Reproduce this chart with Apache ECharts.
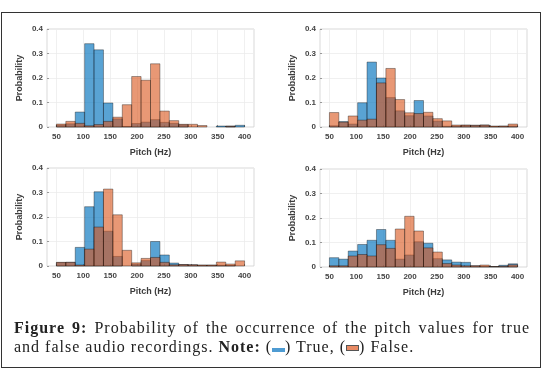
<!DOCTYPE html>
<html>
<head>
<meta charset="utf-8">
<script src="https://cdn.jsdelivr.net/npm/echarts@6/dist/echarts.min.js"></script>
<style>
body{margin:0;background:#fff}
#main{position:absolute;left:0;top:0;width:550px;height:381px}
#frame{position:absolute;left:1px;top:12px;width:540px;height:356px;border:1px solid #333;box-sizing:border-box;pointer-events:none}
#cap{position:absolute;left:14px;top:318px;width:516px;font-family:"Liberation Serif",serif;font-size:16px;letter-spacing:1px;color:#222;line-height:19px}
#cap .l1{text-align:justify;text-align-last:justify;white-space:nowrap}
#cap b{font-weight:bold}
.ic{display:inline-block;width:13px;vertical-align:middle}
</style>
</head>
<body>
<div id="main"></div>
<div id="frame"></div>
<div id="cap">
  <div class="l1"><b>Figure 9:</b> Probability of the occurrence of the pitch values for true</div>
  <div>and false audio recordings. <b>Note:</b> (<span class="ic" style="height:4px;background:#4e9bd2;margin-top:4px"></span>) True, (<span class="ic" style="height:6px;background:#e88a64;border:1px solid #555;box-sizing:border-box"></span>) False.</div>
</div>
<script>
// bin left edges (Hz), each bin is 17.5 Hz wide
var binStarts = [50, 67.5, 85, 102.5, 120, 137.5, 155, 172.5, 190, 207.5, 225, 242.5, 260, 277.5, 295, 312.5, 330, 347.5, 365, 382.5];
var binWidth = 17.5;
var xTicks = [50, 100, 150, 200, 250, 300, 350, 400];

// probabilities per bin, true (blue) and false (orange), four panels
var true1  = [0.008, 0.013, 0.061, 0.34, 0.315, 0.098, 0.033, 0.002, 0.014, 0.02, 0.03, 0.019, 0.015, 0.009, 0, 0, 0, 0.004, 0.004, 0.007];
var false1 = [0.012, 0.023, 0.015, 0.005, 0.01, 0.023, 0.04, 0.091, 0.206, 0.191, 0.258, 0.065, 0.026, 0.011, 0.011, 0.006, 0, 0, 0.003, 0];
var true2  = [0.005, 0.022, 0.012, 0.099, 0.265, 0.2, 0.12, 0.066, 0.046, 0.108, 0.045, 0.024, 0.003, 0.004, 0.007, 0.007, 0.008, 0.002, 0.003, 0.004];
var false2 = [0.059, 0.02, 0.045, 0.028, 0.032, 0.18, 0.239, 0.112, 0.058, 0.055, 0.06, 0.034, 0.025, 0.008, 0.008, 0.007, 0.008, 0.004, 0.004, 0.012];
var true3  = [0.014, 0.015, 0.076, 0.242, 0.303, 0.142, 0.039, 0, 0.008, 0.022, 0.1, 0.045, 0.012, 0.006, 0.005, 0.003, 0.003, 0.003, 0.002, 0];
var false3 = [0.015, 0.015, 0.004, 0.069, 0.159, 0.314, 0.209, 0.064, 0.013, 0.031, 0.035, 0.015, 0.005, 0.006, 0.005, 0.004, 0.004, 0.016, 0.008, 0.021];
var true4  = [0.038, 0.032, 0.065, 0.092, 0.109, 0.153, 0.109, 0.032, 0.049, 0.103, 0.097, 0.034, 0.029, 0.02, 0.019, 0.005, 0.003, 0.002, 0.007, 0.013];
var false4 = [0.005, 0.005, 0.045, 0.051, 0.045, 0.091, 0.076, 0.155, 0.207, 0.147, 0.078, 0.061, 0.014, 0.008, 0.005, 0.005, 0.008, 0.002, 0.003, 0.009];

var panels = [[true1, false1], [true2, false2], [true3, false3], [true4, false4]];
var gridPos = [
    {left: 47, top: 29},
    {left: 320, top: 29},
    {left: 47, top: 168},
    {left: 320, top: 169}
];

var blue = 'rgba(0,114,189,0.65)';
var orange = 'rgba(217,83,25,0.6)';

var chart = echarts.init(document.getElementById('main'));

function renderBin(params, api) {
    var x0 = api.value(0);
    var v = api.value(1);
    if (!v) return null;
    var p0 = api.coord([x0, v]);
    var p1 = api.coord([x0 + binWidth, 0]);
    return {
        type: 'rect',
        shape: {x: p0[0], y: p0[1], width: p1[0] - p0[0], height: p1[1] - p0[1]},
        style: {fill: api.visual('color'), stroke: 'rgba(0,0,0,0.45)', lineWidth: 0.8}
    };
}

var grids = [], xAxes = [], yAxes = [], series = [];
var labelStyle = {fontFamily: 'Liberation Sans', fontSize: 8, fontWeight: 'bold', color: '#444'};
var nameStyle = {fontFamily: 'Liberation Sans', fontSize: 9, fontWeight: 'bold', color: '#3c3c3c'};

panels.forEach(function (pair, g) {
    grids.push({left: gridPos[g].left, top: gridPos[g].top, width: 207, height: 98,
        show: true, borderColor: '#cfcfcf', borderWidth: 0.8});
    xAxes.push({
        type: 'value', gridIndex: g, min: 32.5, max: 417.5,
        name: 'Pitch (Hz)', nameLocation: 'middle', nameGap: 21,
        nameTextStyle: nameStyle,
        axisLine: {show: false},
        axisTick: {show: true, inside: true, length: 2, customValues: xTicks, lineStyle: {color: '#999'}},
        axisLabel: Object.assign({customValues: xTicks, margin: 6}, labelStyle),
        splitLine: {show: true, lineStyle: {color: '#ececec', width: 0.8}}
    });
    yAxes.push({
        type: 'value', gridIndex: g, min: 0, max: 0.4, interval: 0.1,
        name: 'Probability', nameLocation: 'middle', nameGap: 23,
        nameTextStyle: nameStyle,
        axisLine: {show: false},
        axisTick: {show: true, inside: true, length: 2, lineStyle: {color: '#999'}},
        axisLabel: Object.assign({margin: 4, formatter: function (v) { return v === 0 ? '0' : v.toFixed(1); }}, labelStyle),
        splitLine: {show: true, lineStyle: {color: '#ececec', width: 0.8}}
    });
    [blue, orange].forEach(function (c, k) {
        series.push({
            type: 'custom', xAxisIndex: g, yAxisIndex: g,
            itemStyle: {color: c},
            renderItem: renderBin,
            encode: {x: 0, y: 1},
            data: binStarts.map(function (b, i) { return [b, pair[k][i]]; }),
            silent: true
        });
    });
});

chart.setOption({
    animation: false,
    grid: grids,
    xAxis: xAxes,
    yAxis: yAxes,
    series: series
});
</script>
</body>
</html>
